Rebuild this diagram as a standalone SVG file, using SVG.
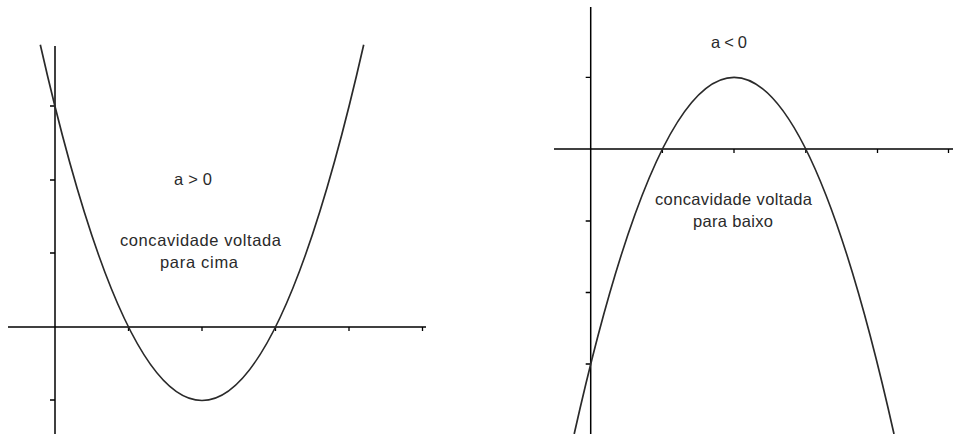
<svg xmlns="http://www.w3.org/2000/svg" width="964" height="434" viewBox="0 0 964 434">
<style>
.axis{stroke:#000;stroke-width:1.5;fill:none}
.tick{stroke:#000;stroke-width:1.3;fill:none}
.curve{stroke:#2a2a2a;stroke-width:1.7;fill:none}
.lbl{font-family:"Liberation Sans",Arial,sans-serif;font-size:16.5px;fill:#2a2a2a;text-anchor:middle}
</style>
<rect width="964" height="434" fill="#fff"/>
<g id="graph-left">
<g id="left-axes">
<line class="axis" x1="55" y1="46" x2="55" y2="434"/>
<line class="axis" x1="8" y1="327" x2="426" y2="327"/>
<path class="tick" d="M50,106H55M50,180H55M50,253H55M50,400H55M128.5,327V331M202,327V331M275.5,327V331M349,327V331M422.5,327V331"/>
</g>
<path id="left-parabola" class="curve" d="M40.3,44.8Q202,756.2 363.7,44.8"/>
<text class="lbl" x="193" y="185" textLength="38">a &gt; 0</text>
<text class="lbl" x="200.5" y="246" textLength="161">concavidade voltada</text>
<text class="lbl" x="199" y="268" textLength="78">para cima</text>
</g>
<g id="graph-right">
<g id="right-axes">
<line class="axis" x1="590.7" y1="7" x2="590.7" y2="434"/>
<line class="axis" x1="554" y1="149" x2="953" y2="149"/>
<path class="tick" d="M585.7,77.3H590.7M585.7,221H590.7M585.7,292.5H590.7M585.7,364H590.7M662.4,149V153M734,149V153M805.8,149V153M877.5,149V153M948.5,149V153"/>
</g>
<path id="right-parabola" class="curve" d="M574.2,434Q734.1,-279.3 894,434"/>
<text class="lbl" x="729" y="48" textLength="36">a &lt; 0</text>
<text class="lbl" x="733.5" y="205" textLength="157">concavidade voltada</text>
<text class="lbl" x="733" y="227" textLength="80">para baixo</text>
</g>
</svg>
